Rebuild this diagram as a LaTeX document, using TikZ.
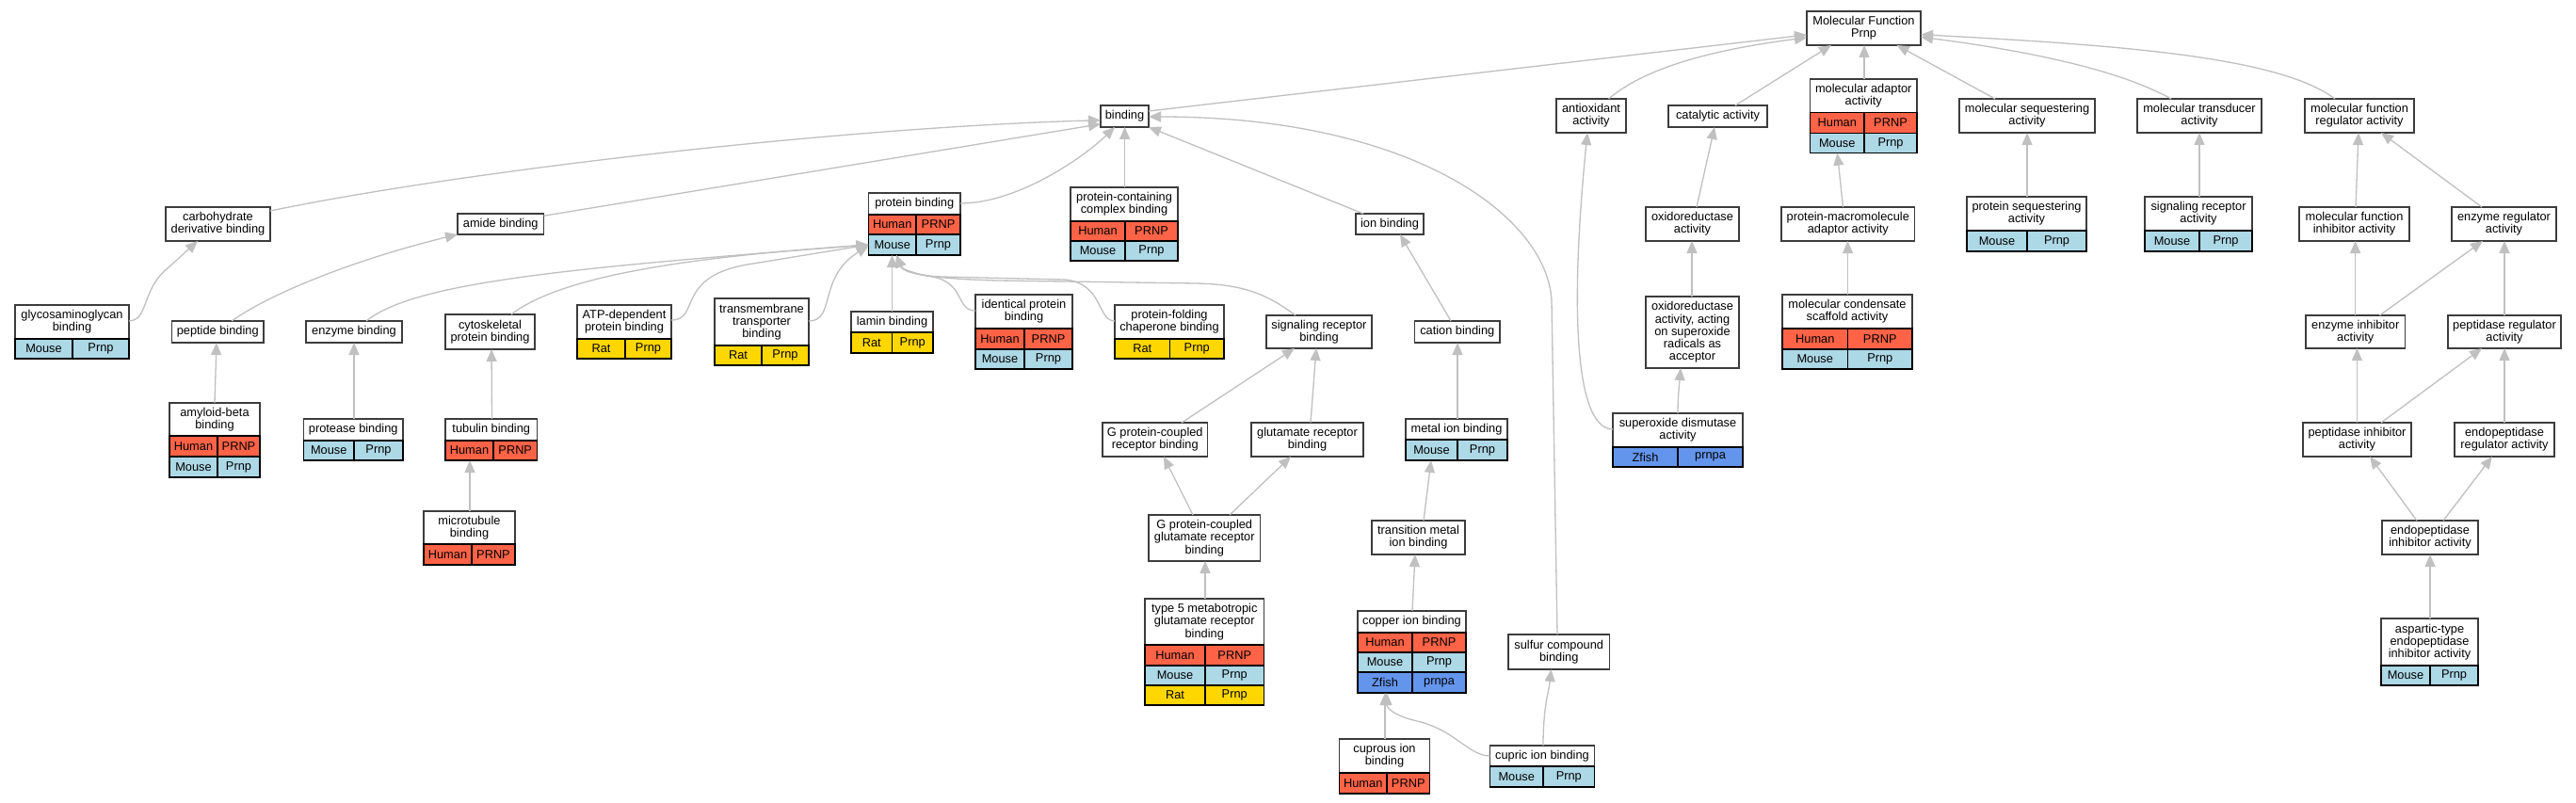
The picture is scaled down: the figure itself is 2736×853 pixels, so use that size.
\documentclass[tikz,border=0pt]{standalone}
\usepackage{fontspec}
\setmainfont{Liberation Sans}
\usetikzlibrary{arrows.meta,fit}
\definecolor{human}{HTML}{FF6347}
\definecolor{mouse}{HTML}{ADD8E6}
\definecolor{rat}{HTML}{FFD700}
\definecolor{zfish}{HTML}{6495ED}
\definecolor{edgegray}{HTML}{C0C0C0}
\definecolor{boxline}{HTML}{3C3C3C}
\tikzset{
  term/.style={draw=boxline, line width=1.5pt, fill=white, inner sep=0pt, outer sep=0pt,
    align=center, font=\fontsize{12.8}{13.3}\selectfont},
  cell/.style={draw=black, line width=1.4pt, inner sep=0pt, outer sep=0pt,
    align=center, font=\fontsize{12.8}{13.3}\selectfont},
  fitbox/.style={inner sep=0pt, outer sep=0pt},
  edge/.style={draw=edgegray, line width=1.3pt, -{Triangle[length=13pt,width=11pt]}}
}
\newcommand\goT[6]{\node[term, minimum width={(#4)-(#2)}, minimum height={(#5)-(#3)}] (#1) at ({((#2)+(#4))/2},{((#3)+(#5))/2}) {#6};}
\newcommand\goR[9]{%
\node[cell, fill=#9, minimum width={(#4)-(#2)}, minimum height={(#6)-(#3)}] (#1a) at ({((#2)+(#4))/2},{((#3)+(#6))/2}) {#7};
\node[cell, fill=#9, minimum width={(#5)-(#4)}, minimum height={(#6)-(#3)}] (#1b) at ({((#4)+(#5))/2},{((#3)+(#6))/2}) {#8};}
\begin{document}
\begin{tikzpicture}[x=1pt,y=-1pt]
\path[fill=white] (0,0) rectangle (2736,853);
% ---- top level
\goT{mf}{1919}{12}{2040}{48}{Molecular Function\\Prnp}
\goT{binding}{1169}{112}{1220}{135}{binding}
\goT{antiox}{1653}{105}{1727}{141}{antioxidant\\activity}
\goT{catal}{1772}{112}{1877}{135}{catalytic activity}
\goT{madapt-t}{1922.5}{84}{2036}{119.7}{molecular adaptor\\activity}
\goR{madapt-h}{1922.5}{119.7}{1980}{2036}{141.3}{Human}{PRNP}{human}
\goR{madapt-m}{1922.5}{141.3}{1980}{2036}{162.7}{Mouse}{Prnp}{mouse}
\node[fitbox, fit=(madapt-t)(madapt-mb)] (madapt) {};
\goT{mseq}{2081}{105}{2225}{141}{molecular sequestering\\activity}
\goT{mtrans}{2270}{105}{2402}{141}{molecular transducer\\activity}
\goT{mfreg}{2448}{105}{2564}{141}{molecular function\\regulator activity}
% ---- binding branch
\goT{carb}{176}{220}{287}{256}{carbohydrate\\derivative binding}
\goT{amide}{486}{227}{577.5}{249}{amide binding}
\goT{pbind-t}{922.5}{205}{1020}{228}{protein binding}
\goR{pbind-h}{922.5}{228}{973}{1020}{249}{Human}{PRNP}{human}
\goR{pbind-m}{922.5}{249}{973}{1020}{271}{Mouse}{Prnp}{mouse}
\node[fitbox, fit=(pbind-t)(pbind-mb)] (pbind) {};
\goT{pcc-t}{1137}{199}{1251}{235}{protein-containing\\complex binding}
\goR{pcc-h}{1137}{235}{1195}{1251}{256}{Human}{PRNP}{human}
\goR{pcc-m}{1137}{256}{1195}{1251}{277}{Mouse}{Prnp}{mouse}
\node[fitbox, fit=(pcc-t)(pcc-mb)] (pcc) {};
\goT{ionb}{1440}{227}{1512}{249}{ion binding}
\goT{glyco-t}{16}{324}{137}{360}{glycosaminoglycan\\binding}
\goR{glyco-m}{16}{360}{77}{137}{381}{Mouse}{Prnp}{mouse}
\node[fitbox, fit=(glyco-t)(glyco-mb)] (glyco) {};
\goT{pept}{182.5}{341}{280}{364}{peptide binding}
\goT{enzb}{325}{341}{427}{364}{enzyme binding}
\goT{cyto}{473}{334}{568}{371}{cytoskeletal\\protein binding}
\goT{atp-t}{613}{324}{713}{360}{ATP-dependent\\protein binding}
\goR{atp-r}{613}{360}{664}{713}{381}{Rat}{Prnp}{rat}
\node[fitbox, fit=(atp-t)(atp-rb)] (atp) {};
\goT{tmt-t}{759}{317}{859}{367}{transmembrane\\transporter\\binding}
\goR{tmt-r}{759}{367}{809}{859}{388}{Rat}{Prnp}{rat}
\node[fitbox, fit=(tmt-t)(tmt-rb)] (tmt) {};
\goT{lamin-t}{904}{331}{991}{353}{lamin binding}
\goR{lamin-r}{904}{353}{947.5}{991}{375}{Rat}{Prnp}{rat}
\node[fitbox, fit=(lamin-t)(lamin-rb)] (lamin) {};
\goT{ident-t}{1036}{313}{1139}{349}{identical protein\\binding}
\goR{ident-h}{1036}{349}{1088}{1139}{371}{Human}{PRNP}{human}
\goR{ident-m}{1036}{371}{1088}{1139}{392}{Mouse}{Prnp}{mouse}
\node[fitbox, fit=(ident-t)(ident-mb)] (ident) {};
\goT{pfold-t}{1184}{324}{1300}{360}{protein-folding\\chaperone binding}
\goR{pfold-r}{1184}{360}{1242.5}{1300}{381}{Rat}{Prnp}{rat}
\node[fitbox, fit=(pfold-t)(pfold-rb)] (pfold) {};
\goT{sigrb}{1345}{335}{1457}{370}{signaling receptor\\binding}
\goT{cation}{1502.5}{341}{1593}{364}{cation binding}
\goT{amyl-t}{180}{428}{276}{463}{amyloid-beta\\binding}
\goR{amyl-h}{180}{463}{231}{276}{485}{Human}{PRNP}{human}
\goR{amyl-m}{180}{485}{231}{276}{507}{Mouse}{Prnp}{mouse}
\node[fitbox, fit=(amyl-t)(amyl-mb)] (amyl) {};
\goT{prot-t}{322.5}{445}{428}{468}{protease binding}
\goR{prot-m}{322.5}{468}{376}{428}{489}{Mouse}{Prnp}{mouse}
\node[fitbox, fit=(prot-t)(prot-mb)] (prot) {};
\goT{tubul-t}{473}{445}{570.5}{468}{tubulin binding}
\goR{tubul-h}{473}{468}{524}{570.5}{489}{Human}{PRNP}{human}
\node[fitbox, fit=(tubul-t)(tubul-hb)] (tubul) {};
\goT{micro-t}{450}{543}{547}{578}{microtubule\\binding}
\goR{micro-h}{450}{578}{501}{547}{600}{Human}{PRNP}{human}
\node[fitbox, fit=(micro-t)(micro-hb)] (micro) {};
\goT{gpcr}{1171}{449}{1282.5}{485}{G protein-coupled\\receptor binding}
\goT{glut}{1329}{449}{1448}{485}{glutamate receptor\\binding}
\goT{metal-t}{1493}{445}{1601}{467}{metal ion binding}
\goR{metal-m}{1493}{467}{1548}{1601}{489}{Mouse}{Prnp}{mouse}
\node[fitbox, fit=(metal-t)(metal-mb)] (metal) {};
\goT{gpcg}{1220}{547}{1338.5}{596}{G protein-coupled\\glutamate receptor\\binding}
\goT{type5-t}{1216}{636}{1342.5}{685}{type 5 metabotropic\\glutamate receptor\\binding}
\goR{type5-h}{1216}{685}{1280}{1342.5}{707}{Human}{PRNP}{human}
\goR{type5-m}{1216}{707}{1280}{1342.5}{728}{Mouse}{Prnp}{mouse}
\goR{type5-r}{1216}{728}{1280}{1342.5}{749}{Rat}{Prnp}{rat}
\node[fitbox, fit=(type5-t)(type5-rb)] (type5) {};
\goT{trans}{1457}{553}{1556}{589}{transition metal\\ion binding}
\goT{copper-t}{1442}{649}{1557}{672}{copper ion binding}
\goR{copper-h}{1442}{672}{1500}{1557}{693}{Human}{PRNP}{human}
\goR{copper-m}{1442}{693}{1500}{1557}{714}{Mouse}{Prnp}{mouse}
\goR{copper-z}{1442}{714}{1500}{1557}{736}{Zfish}{prnpa}{zfish}
\node[fitbox, fit=(copper-t)(copper-zb)] (copper) {};
\goT{cuprous-t}{1422.5}{785}{1518.5}{821}{cuprous ion\\binding}
\goR{cuprous-h}{1422.5}{821}{1473}{1518.5}{843}{Human}{PRNP}{human}
\node[fitbox, fit=(cuprous-t)(cuprous-hb)] (cuprous) {};
\goT{cupric-t}{1582.5}{792}{1693.5}{814}{cupric ion binding}
\goR{cupric-m}{1582.5}{814}{1639}{1693.5}{836}{Mouse}{Prnp}{mouse}
\node[fitbox, fit=(cupric-t)(cupric-mb)] (cupric) {};
\goT{sulfur}{1602}{674}{1709.5}{711}{sulfur compound\\binding}
% ---- activity branches
\goT{oxred}{1748}{220}{1847}{256}{oxidoreductase\\activity}
\goT{pmad}{1892}{220}{2033.6}{256}{protein-macromolecule\\adaptor activity}
\goT{oxsup}{1748}{315}{1847}{391}{oxidoreductase\\activity, acting\\on superoxide\\radicals as\\acceptor}
\goT{mcond-t}{1893}{313}{2031}{349}{molecular condensate\\scaffold activity}
\goR{mcond-h}{1893}{349}{1962.5}{2031}{371}{Human}{PRNP}{human}
\goR{mcond-m}{1893}{371}{1962.5}{2031}{392}{Mouse}{Prnp}{mouse}
\node[fitbox, fit=(mcond-t)(mcond-mb)] (mcond) {};
\goT{pseq-t}{2089}{209}{2216}{245}{protein sequestering\\activity}
\goR{pseq-m}{2089}{245}{2153}{2216}{267}{Mouse}{Prnp}{mouse}
\node[fitbox, fit=(pseq-t)(pseq-mb)] (pseq) {};
\goT{sod-t}{1713}{439}{1851}{475}{superoxide dismutase\\activity}
\goR{sod-z}{1713}{475}{1782}{1851}{496}{Zfish}{prnpa}{zfish}
\node[fitbox, fit=(sod-t)(sod-zb)] (sod) {};
\goT{sigra-t}{2278}{209}{2392}{245}{signaling receptor\\activity}
\goR{sigra-m}{2278}{245}{2336}{2392}{267}{Mouse}{Prnp}{mouse}
\node[fitbox, fit=(sigra-t)(sigra-mb)] (sigra) {};
\goT{mfinh}{2442}{220}{2559}{256}{molecular function\\inhibitor activity}
\goT{enzreg}{2604}{220}{2715}{256}{enzyme regulator\\activity}
\goT{enzinh}{2449}{335}{2554.5}{370}{enzyme inhibitor\\activity}
\goT{pepreg}{2600}{335}{2720}{370}{peptidase regulator\\activity}
\goT{pepinh}{2446}{449}{2561}{485}{peptidase inhibitor\\activity}
\goT{endreg}{2607}{449}{2713}{485}{endopeptidase\\regulator activity}
\goT{endinh}{2530}{553}{2632}{589}{endopeptidase\\inhibitor activity}
\goT{asp-t}{2529}{657}{2632}{707}{aspartic-type\\endopeptidase\\inhibitor activity}
\goR{asp-m}{2529}{707}{2581}{2632}{728}{Mouse}{Prnp}{mouse}
\node[fitbox, fit=(asp-t)(asp-mb)] (asp) {};
% ---- edges
\draw[edge] (binding.east |- 0,118) -- (mf.west |- 0,37);
\draw[edge] (antiox.north -| 1708.6,0) .. controls (1740,78) and (1800,55) .. (mf.west |- 0,40);
\draw[edge] (catal.north -| 1843,0) -- (mf.south -| 1945,0);
\draw[edge] (madapt.north -| 1980,0) -- (mf.south -| 1980,0);
\draw[edge] (mseq.north -| 2119,0) -- (mf.south -| 2014.6,0);
\draw[edge] (mtrans.north -| 2306,0) .. controls (2270,85) and (2200,60) .. (mf.east |- 0,39.3);
\draw[edge] (mfreg.north -| 2480,0) .. controls (2420,60) and (2250,48) .. (mf.east |- 0,36.7);
\draw[edge] (carb.east |- 0,224) .. controls (500,180) and (900,135) .. (binding.west |- 0,127.7);
\draw[edge] (amide.east |- 0,229.3) -- (binding.west |- 0,131.7);
\draw[edge] (pbind.east |- 0,216) .. controls (1080,216) and (1150,168) .. (binding.south -| 1184,0);
\draw[edge] (pcc.north -| 1194.6,0) -- (binding.south -| 1194.6,0);
\draw[edge] (ionb.north -| 1448,0) -- (binding.south east);
\draw[edge] (sulfur.north -| 1654,0) -- (1648,320) .. controls (1644,230) and (1500,124) .. (binding.east |- 0,124);
\draw[edge] (glyco.east |- 0,341) .. controls (158,340) and (150,308) .. (178,285) -- (carb.south -| 210,0);
\draw[edge] (pept.north -| 246,0) .. controls (290,310) and (380,275) .. (amide.south west);
\draw[edge] (enzb.north -| 389,0) .. controls (440,300) and (600,285) .. (pbind.west |- 0,260);
\draw[edge] (cyto.north -| 543,0) .. controls (600,290) and (750,272) .. (pbind.west |- 0,260);
\draw[edge] (atp.east |- 0,340) .. controls (745,340) and (715,292) .. (800,280) -- (pbind.west |- 0,260);
\draw[edge] (tmt.east |- 0,341) .. controls (888,341) and (868,295) .. (pbind.west |- 0,261);
\draw[edge] (lamin.north -| 947.5,0) -- (pbind.south -| 947.5,0);
\draw[edge] (ident.west |- 0,330) .. controls (1015,330) and (1025,300) .. (990,294) .. controls (968,290) and (957,285) .. (pbind.south -| 952,0);
\draw[edge] (pfold.west |- 0,341) .. controls (1165,341) and (1172,300) .. (1130,297) -- (1000,294) .. controls (972,293) and (958,287) .. (pbind.south -| 952,0);
\draw[edge] (sigrb.north -| 1376,0) .. controls (1345,312) and (1320,302) .. (1270,301) -- (1060,298) .. controls (985,296) and (960,290) .. (pbind.south -| 952,0);
\draw[edge] (cation.north -| 1541,0) -- (ionb.south -| 1487,0);
\draw[edge] (metal.north -| 1548,0) -- (cation.south -| 1548,0);
\draw[edge] (trans.north -| 1512,0) -- (metal.south -| 1520,0);
\draw[edge] (copper.north -| 1500,0) -- (trans.south -| 1503,0);
\draw[edge] (cuprous.north -| 1471,0) -- (copper.south -| 1471,0);
\draw[edge] (cupric.west |- 0,803) .. controls (1560,803) and (1545,775) .. (1505,766) .. controls (1480,760) and (1473,752) .. (copper.south -| 1473,0);
\draw[edge] (cupric.north -| 1639,0) .. controls (1639,750) and (1645,735) .. (sulfur.south -| 1647.5,0);
\draw[edge] (amyl.north -| 228,0) -- (pept.south -| 230,0);
\draw[edge] (prot.north -| 376,0) -- (enzb.south -| 376,0);
\draw[edge] (tubul.north -| 522.5,0) -- (cyto.south -| 522,0);
\draw[edge] (micro.north -| 499,0) -- (tubul.south -| 499,0);
\draw[edge] (gpcr.north -| 1255,0) -- (sigrb.south -| 1375,0);
\draw[edge] (glut.north -| 1392,0) -- (sigrb.south -| 1398,0);
\draw[edge] (gpcg.north -| 1267,0) -- (gpcr.south -| 1236,0);
\draw[edge] (gpcg.north -| 1306,0) -- (glut.south -| 1371,0);
\draw[edge] (type5.north -| 1280,0) -- (gpcg.south -| 1280,0);
\draw[edge] (oxred.north -| 1802,0) -- (catal.south -| 1821,0);
\draw[edge] (oxsup.north -| 1797,0) -- (oxred.south -| 1797,0);
\draw[edge] (sod.north -| 1782,0) .. controls (1782,420) and (1784,405) .. (oxsup.south -| 1785,0);
\draw[edge] (sod.west |- 0,456) .. controls (1668,455) and (1670,300) .. (antiox.south -| 1686,0);
\draw[edge] (pmad.north -| 1957.5,0) -- (madapt.south -| 1951.4,0);
\draw[edge] (mcond.north -| 1962.5,0) -- (pmad.south -| 1962.5,0);
\draw[edge] (pseq.north -| 2153,0) -- (mseq.south -| 2153,0);
\draw[edge] (sigra.north -| 2336,0) -- (mtrans.south -| 2336,0);
\draw[edge] (mfinh.north -| 2502,0) -- (mfreg.south -| 2505,0);
\draw[edge] (enzreg.north -| 2636,0) -- (mfreg.south -| 2529,0);
\draw[edge] (enzinh.north -| 2501.6,0) -- (mfinh.south -| 2501.6,0);
\draw[edge] (enzinh.north -| 2527.5,0) -- (enzreg.south -| 2637,0);
\draw[edge] (pepreg.north -| 2660,0) -- (enzreg.south -| 2660,0);
\draw[edge] (pepinh.north -| 2503.4,0) -- (enzinh.south -| 2503.4,0);
\draw[edge] (pepinh.north -| 2529,0) -- (pepreg.south -| 2636,0);
\draw[edge] (endreg.north -| 2660,0) -- (pepreg.south -| 2660,0);
\draw[edge] (endinh.north -| 2567,0) -- (pepinh.south -| 2517,0);
\draw[edge] (endinh.north -| 2595,0) -- (endreg.south -| 2647,0);
\draw[edge] (asp.north -| 2581,0) -- (endinh.south -| 2581,0);
\end{tikzpicture}
\end{document}
